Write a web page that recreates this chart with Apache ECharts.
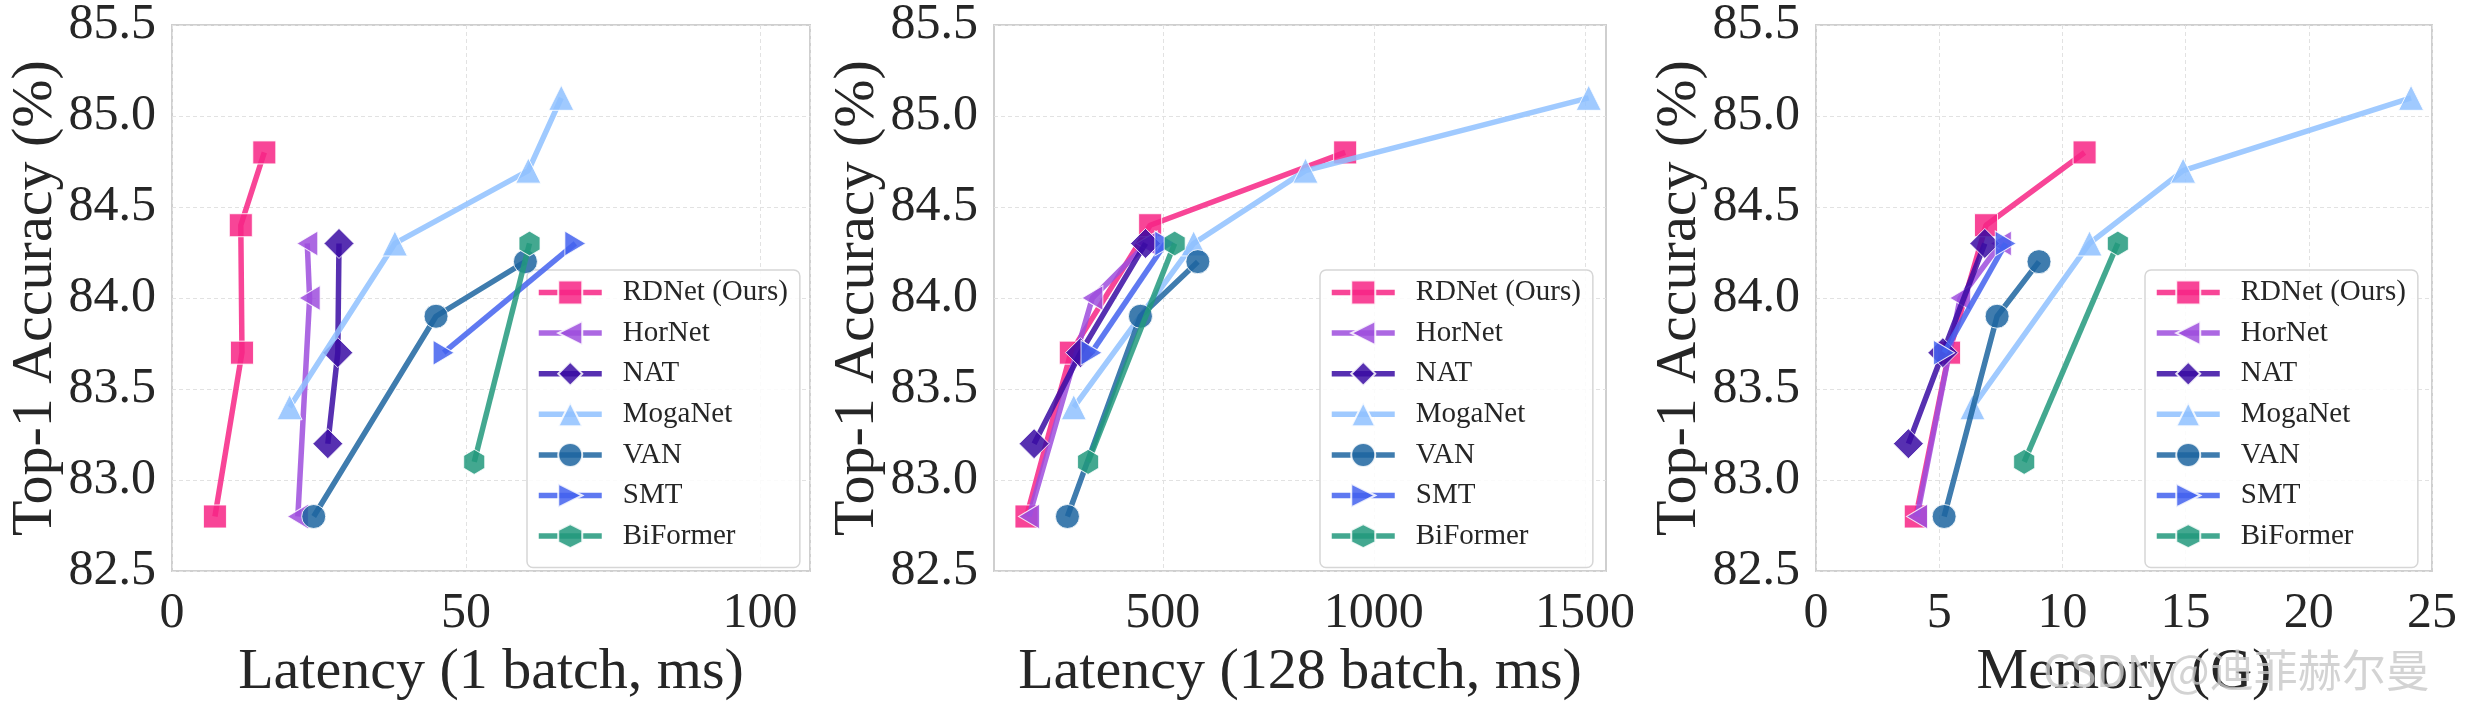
<!DOCTYPE html>
<html>
<head>
<meta charset="utf-8">
<script src="https://cdn.jsdelivr.net/npm/echarts@6/dist/echarts.min.js"></script>
<style>
html,body{margin:0;padding:0;background:#fff;}
#chart{width:2467px;height:707px;}
</style>
</head>
<body>
<div id="chart"></div>
<script>
// ---- data ----
const modelNames = ['RDNet (Ours)', 'HorNet', 'NAT', 'MogaNet', 'VAN', 'SMT', 'BiFormer'];

const rdnetAcc = [82.8, 83.7, 84.4, 84.8];
const rdnetLat1 = [7.3, 11.9, 11.7, 15.7];
const rdnetLat128 = [177, 282, 470, 932];
const rdnetMem = [4.05, 5.4, 6.9, 10.9];

const hornetAcc = [82.8, 84.0, 84.3];
const hornetLat1 = [21.4, 23.4, 23.0];
const hornetLat128 = [183, 333, 462];
const hornetMem = [4.1, 5.85, 7.5];

const natAcc = [83.2, 83.7, 84.3];
const natLat1 = [26.5, 28.2, 28.4];
const natLat128 = [195, 305, 459];
const natMem = [3.75, 5.15, 6.85];

const moganetAcc = [83.4, 84.3, 84.7, 85.1];
const moganetLat1 = [20.0, 37.9, 60.6, 66.2];
const moganetLat128 = [289, 573, 838, 1509];
const moganetMem = [6.35, 11.1, 14.9, 24.15];

const vanAcc = [82.8, 83.9, 84.2];
const vanLat1 = [24.1, 44.9, 60.1];
const vanLat128 = [274, 447, 583];
const vanMem = [5.2, 7.35, 9.05];

const smtAcc = [83.7, 84.3];
const smtLat1 = [46.2, 68.6];
const smtLat128 = [331, 506];
const smtMem = [5.2, 7.7];

const biformerAcc = [83.1, 84.3];
const biformerLat1 = [51.4, 60.8];
const biformerLat128 = [323, 528];
const biformerMem = [8.45, 12.25];

const xTitles = ['Latency (1 batch, ms)', 'Latency (128 batch, ms)', 'Memory (G)'];
const yTitle = 'Top-1 Accuracy (%)';
const lat128Ticks = [500, 1000, 1500];

// ---- styling ----
const colors = ['#f72585', '#9d4edd', '#3a0ca3', '#8fc1ff', '#1d65a0', '#4361ee', '#22997c'];
const symbols = [
  'rect',
  'path://M0,5 L10,0 L10,10 Z',
  'diamond',
  'triangle',
  'circle',
  'path://M10,5 L0,0 L0,10 Z',
  'path://M5,0 L9.33,2.5 L9.33,7.5 L5,10 L0.67,7.5 L0.67,2.5 Z'
];
const symbolSizes = [23, [21, 25], 30, 25, 24, [21, 25], [21, 25]];

const accs = [rdnetAcc, hornetAcc, natAcc, moganetAcc, vanAcc, smtAcc, biformerAcc];
const panelX = [
  [rdnetLat1, hornetLat1, natLat1, moganetLat1, vanLat1, smtLat1, biformerLat1],
  [rdnetLat128, hornetLat128, natLat128, moganetLat128, vanLat128, smtLat128, biformerLat128],
  [rdnetMem, hornetMem, natMem, moganetMem, vanMem, smtMem, biformerMem]
];

const FONT = 'Liberation Serif';
const TXT = '#262626';

const grids = [
  {left: 172, top: 23, width: 638, height: 560},
  {left: 994, top: 23, width: 612, height: 560},
  {left: 1816, top: 23, width: 616, height: 560}
];
const legendPos = [
  {left: 527, top: 270},
  {left: 1320, top: 270},
  {left: 2145, top: 270}
];

const splitLine = {show: true, lineStyle: {color: '#e2e2e2', width: 1, type: [4, 3]}};

const xAxes = [
  {min: 0, max: 108.5, interval: 50},
  {min: 100, max: 1550},
  {min: 0, max: 25, interval: 5}
].map((a, i) => {
  const ax = Object.assign({
    type: 'value', gridIndex: i,
    name: xTitles[i], nameLocation: 'middle', nameGap: 58,
    nameTextStyle: {fontFamily: FONT, fontSize: 58, color: TXT},
    axisLine: {show: false}, axisTick: {show: false},
    axisLabel: {fontFamily: FONT, fontSize: 50, color: TXT, margin: 18, showMaxLabel: i === 2, showMinLabel: true,
      formatter: v => String(v)},
    splitLine: splitLine
  }, a);
  if (i === 1) {
    ax.axisLabel = Object.assign({}, ax.axisLabel, {customValues: lat128Ticks, showMaxLabel: true});
    ax.axisTick = {show: false, customValues: lat128Ticks};
  }
  return ax;
});

const yAxes = grids.map((g, i) => ({
  type: 'value', gridIndex: i, min: 82.5, max: 85.5, interval: 0.5,
  name: yTitle, nameLocation: 'middle', nameGap: 104,
  nameTextStyle: {fontFamily: FONT, fontSize: 58, color: TXT},
  axisLine: {show: false}, axisTick: {show: false},
  axisLabel: {fontFamily: FONT, fontSize: 50, color: TXT, margin: 16, formatter: v => v.toFixed(1)},
  splitLine: splitLine
}));

const series = [];
for (let p = 0; p < 3; p++) {
  for (let m = 0; m < modelNames.length; m++) {
    series.push({
      type: 'line', name: modelNames[m], xAxisIndex: p, yAxisIndex: p,
      data: panelX[p][m].map((x, k) => [x, accs[m][k]]),
      symbol: symbols[m], symbolSize: symbolSizes[m], symbolKeepAspect: false,
      showSymbol: true,
      lineStyle: {color: colors[m], width: 5.5, opacity: 0.85},
      itemStyle: {color: colors[m], opacity: 0.85, borderColor: '#ffffff', borderWidth: 1},
      emphasis: {disabled: true},
      z: 2 + m
    });
  }
}

const legends = legendPos.map(pos => ({
  data: modelNames, orient: 'vertical', left: pos.left, top: pos.top,
  itemWidth: 63, itemHeight: 30, itemGap: 11.6,
  padding: [8, 12, 17, 9],
  backgroundColor: 'rgba(255,255,255,0.85)', borderColor: '#d6d6d6', borderWidth: 1.5, borderRadius: 6,
  lineStyle: {width: 5.5},
  textStyle: {fontFamily: FONT, fontSize: 29, color: TXT, padding: [0, 0, 0, 16]},
  selectedMode: false
}));

const chart = echarts.init(document.getElementById('chart'), null, {renderer: 'canvas'});
chart.setOption({
  animation: false,
  backgroundColor: '#ffffff',
  textStyle: {fontFamily: FONT, color: TXT},
  grid: grids.map(g => Object.assign({show: true, borderColor: '#cfcfcf', borderWidth: 2, backgroundColor: 'transparent'}, g)),
  xAxis: xAxes,
  yAxis: yAxes,
  legend: legends,
  series: series,
  graphic: [{
    type: 'text', left: 2043, top: 648, z: 100,
    style: {text: 'CSDN @迪菲赫尔曼', fontFamily: "Noto Sans CJK SC", fontSize: 44, fill: 'rgba(200,200,200,0.8)'}
  }]
});
</script>
</body>
</html>
